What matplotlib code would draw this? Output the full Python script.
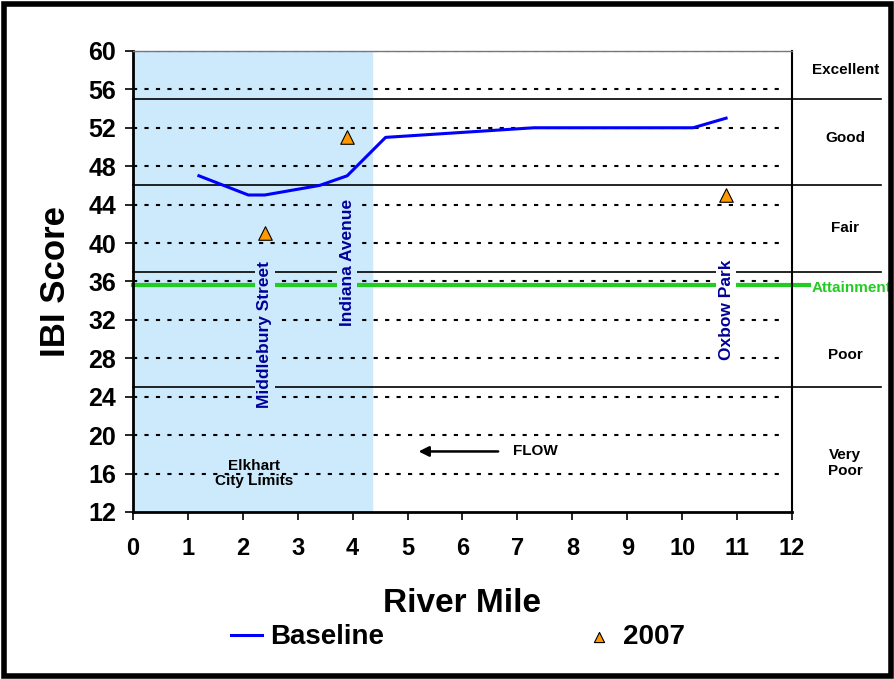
import numpy as np
import matplotlib.pyplot as plt
from matplotlib.patches import Rectangle

plt.rcParams['font.family'] = ['Liberation Sans', 'DejaVu Sans']
plt.rcParams['font.weight'] = 'bold'

# данные
base_mile = [1.2, 2.1, 2.4, 3.4, 3.9, 4.6, 7.3, 10.2, 10.8]
base_ibi = [47, 45, 45, 46, 47, 51, 52, 52, 53]
y2007_mile = [2.4, 3.9, 10.8]
y2007_ibi = [41, 51, 45]

class_bounds = [55, 46, 37, 25]
class_names = ['Excellent', 'Good', 'Fair', 'Poor', 'Very\nPoor']
class_label_y = [58.0, 50.9, 41.6, 28.3, 17.1]
attainment = 35.6

sites = ['Middlebury Street', 'Indiana Avenue', 'Oxbow Park']
site_mile = [2.4, 3.9, 10.8]
site_y = [30.5, 38.0, 33.1]

city_limit = 4.35

fig = plt.figure(figsize=(8.95, 6.79), dpi=100)
ax = fig.add_axes([0.1486, 0.246, 0.7363, 0.679])

# рамка вокруг рисунка
fig.patches.append(Rectangle((0.004, 0.004), 0.992, 0.99, transform=fig.transFigure,
                             fill=False, ec='black', lw=4))

ax.set_xlim(0, 12)
ax.set_ylim(12, 60)

ax.axvspan(0, city_limit, color='#cceafc', zorder=0)

# пунктирная сетка
for yv in range(16, 61, 4):
    ax.hlines(yv, 0, 11.85, colors='black', lw=1.5, linestyles=(0, (2, 3.5)), zorder=1)

# границы классов
for b in class_bounds:
    ax.plot([0, 13.62], [b, b], color='black', lw=1.2, clip_on=False, zorder=2)
ax.plot([0, 12.31], [attainment, attainment], color='#22cc22', lw=3, clip_on=False, zorder=2)

for name, yl in zip(class_names, class_label_y):
    ax.text(12.97, yl, name, ha='center', va='center', fontsize=11, fontweight='bold',
            clip_on=False)
ax.text(13.08, 35.3, 'Attainment', ha='center', va='center', fontsize=11,
        fontweight='bold', color='#22cc22', clip_on=False)

ax.plot(base_mile, base_ibi, color='#0000ff', lw=2.2, zorder=4, label='Baseline')
ax.scatter(y2007_mile, y2007_ibi, marker='^', s=95, c='#ff9900', edgecolors='black',
           linewidths=0.8, zorder=5, label='2007')

for s, xm, ym in zip(sites, site_mile, site_y):
    bg = '#cceafc' if xm < city_limit else 'white'
    ax.text(xm, ym, s, rotation=90, ha='center', va='center', fontsize=12.5,
            fontweight='bold', color='#000099', zorder=3,
            bbox=dict(facecolor=bg, edgecolor='none', pad=2))

ax.text(2.2, 16.0, 'Elkhart\nCity Limits', ha='center', va='center', fontsize=11,
        fontweight='bold', linespacing=1.1)
ax.annotate('', xy=(5.15, 18.3), xytext=(6.7, 18.3),
            arrowprops=dict(arrowstyle='-|>', color='black', lw=1.8, mutation_scale=15))
ax.text(6.92, 18.3, 'FLOW', ha='left', va='center', fontsize=11, fontweight='bold')

ax.set_xticks(range(0, 13))
ax.set_yticks(range(12, 61, 4))
ax.tick_params(axis='x', labelsize=17, direction='out', length=6, width=1.2, pad=12)
ax.tick_params(axis='y', labelsize=18, direction='out', length=6, width=1.2, pad=6)
for lab in ax.get_xticklabels() + ax.get_yticklabels():
    lab.set_fontweight('bold')

ax.spines['left'].set_linewidth(2)
ax.spines['bottom'].set_linewidth(2)
ax.spines['right'].set_linewidth(1.5)
ax.spines['top'].set_color('#777777')
ax.spines['top'].set_linewidth(1)

ax.set_xlabel('River Mile', fontsize=24, fontweight='bold', labelpad=20)
ax.set_ylabel('IBI Score', fontsize=25, fontweight='bold', labelpad=12)

leg = ax.legend(loc='center', bbox_to_anchor=(0.493, -0.272), ncol=2, frameon=False,
                fontsize=20, columnspacing=7.2, handlelength=1.1, handletextpad=0.3,
                markerscale=0.75)
for t in leg.get_texts():
    t.set_fontweight('bold')

fig.savefig('out.png', dpi=100)
